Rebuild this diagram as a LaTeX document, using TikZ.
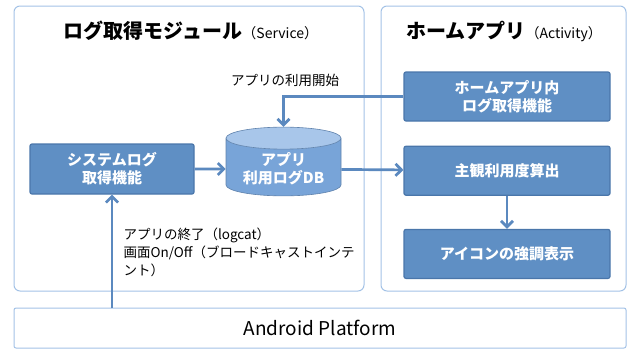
\documentclass[tikz,border=0pt]{standalone}
\usepackage{fontspec}
\setmainfont{Noto Sans CJK JP}
\usetikzlibrary{positioning,shapes.geometric,arrows.meta}
\definecolor{boxblue}{HTML}{5F8FC4}
\definecolor{boxedge}{HTML}{4A76AA}
\definecolor{framecol}{HTML}{A3C2E6}
\definecolor{arrowcol}{HTML}{5B89BF}
\definecolor{dbbody}{HTML}{78A4D8}
\definecolor{dbtop}{HTML}{A8C6EA}
\begin{document}
\begin{tikzpicture}[x=1pt,y=-1pt,
		funcbox/.style={rectangle,draw=boxedge,fill=boxblue,line width=1.2pt,rounded corners=2pt,
			text=white,minimum width=206pt,minimum height=49pt,align=center,
			font=\fontsize{15}{18}\selectfont\bfseries},
		dbnode/.style={cylinder,shape border rotate=90,aspect=0.25,draw=dbbody!80!black,line width=0.6pt,
			cylinder uses custom fill,cylinder body fill=dbbody,cylinder end fill=dbtop,
			minimum width=115pt,minimum height=62pt,text=white,align=center,
			font=\fontsize{15}{18}\selectfont\bfseries},
		groupframe/.style={draw=framecol,line width=1pt,rounded corners=6pt},
		flow/.style={draw=arrowcol,line width=2.7pt,-{Straight Barb[length=6pt,width=12pt]}},
		note/.style={align=left,font=\fontsize{13.5}{18}\selectfont}
		]
		\useasboundingbox (0,0) rectangle (629,349);
		\draw[groupframe] (14,6) rectangle (364,291);
		\draw[groupframe] (381,6) rectangle (626,291);
		\draw[groupframe,rounded corners=2pt] (14,308) rectangle (626,348);
		
		\node[font=\fontsize{20}{24}\selectfont\bfseries] (svctitle) at (191,31)
		{ログ取得モジュール{\fontsize{14}{16}\selectfont\mdseries （Service）}};
		\node[font=\fontsize{20}{24}\selectfont\bfseries] (acttitle) at (504,31)
		{ホームアプリ{\fontsize{14}{16}\selectfont\mdseries （Activity）}};
		\node[font=\fontsize{19}{22}\selectfont] (android) at (320,328) {Android Platform};
		
		\node[funcbox, minimum width=164pt, minimum height=50pt] (sys) at (112,169) {システムログ\\取得機能};
		\node[dbnode] (db) at (283.5,169) {アプリ\\利用ログDB};
		
		\node[funcbox] (hin) at (507,96.5) {ホームアプリ内\\ログ取得機能};
		\node[funcbox, below=24pt of hin] (calc) {主観利用度算出};
		\node[funcbox, below=33pt of calc] (icon) {アイコンの強調表示};
		
		\node[note] (startlbl) at (285,80) {アプリの利用開始};
		\node[note, anchor=north west] (endlbl) at (120,224)
		{アプリの終了（logcat）\\画面On/Off（ブロードキャストインテ\\ント）};
		
		\draw[flow] (sys) -- (db);
		\draw[flow] (db) -- (calc);
		\draw[flow] (hin.west) -| (db.north);
		\draw[flow] (calc) -- (icon);
		\draw[flow] (sys.south |- 0,308) -- (sys.south);
	\end{tikzpicture}
\end{document}
